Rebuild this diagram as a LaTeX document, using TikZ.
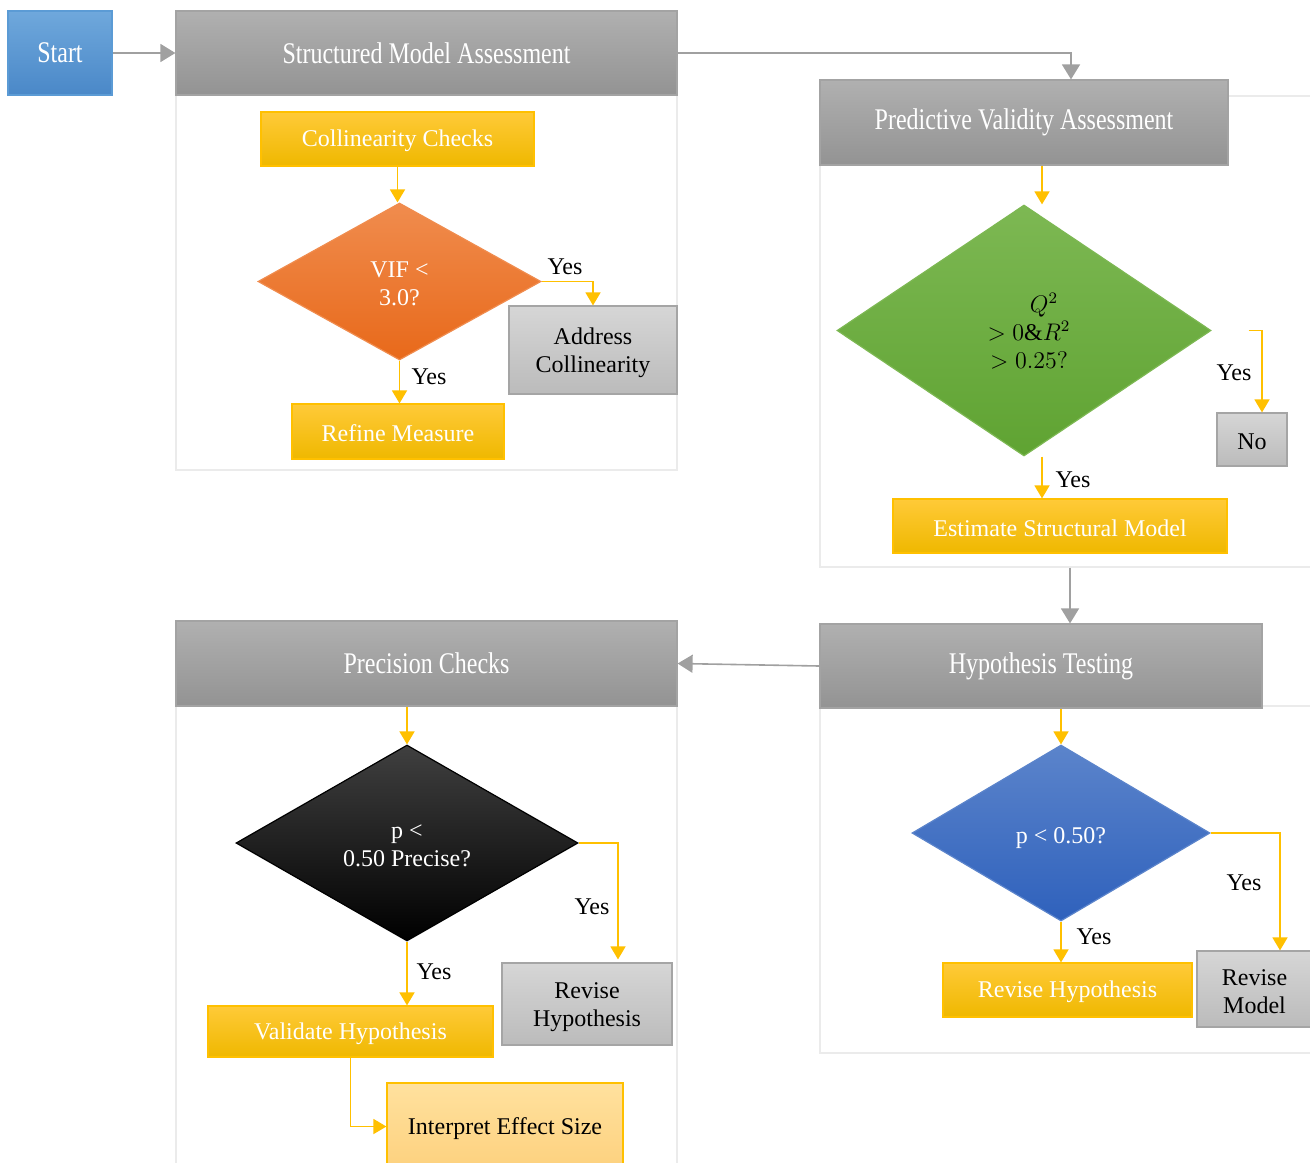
\documentclass[tikz,border=0pt]{standalone}
\usepackage{fontspec}
\setmainfont{Liberation Serif}
\usetikzlibrary{shapes.geometric,arrows.meta,calc}

\definecolor{hdrtop}{HTML}{B0B0B0}
\definecolor{hdrbot}{HTML}{939393}
\definecolor{hdredge}{HTML}{A3A3A3}
\definecolor{frmc}{HTML}{EBEBEB}
\definecolor{ytop}{HTML}{FFCA38}
\definecolor{ybot}{HTML}{EFB800}
\definecolor{yedge}{HTML}{FFC000}
\definecolor{gtop}{HTML}{D6D6D6}
\definecolor{gbot}{HTML}{BBBBBB}
\definecolor{gedge}{HTML}{A5A5A5}
\definecolor{arrgray}{HTML}{A0A0A0}
\definecolor{stop}{HTML}{6FA8DC}
\definecolor{sbot}{HTML}{4A88C8}
\definecolor{sedge}{HTML}{5B9BD5}
\definecolor{otop}{HTML}{F08C4E}
\definecolor{obot}{HTML}{E8691A}
\definecolor{grtop}{HTML}{7DB853}
\definecolor{grbot}{HTML}{5FA332}
\definecolor{bltop}{HTML}{5B84CB}
\definecolor{blbot}{HTML}{2F61BC}
\definecolor{itop}{HTML}{FFE19E}
\definecolor{ibot}{HTML}{FDD17E}

\newcommand\condensed[1]{\scalebox{0.8}[1]{#1}}

\begin{document}
\begin{tikzpicture}[x=0.5pt,y=-0.5pt,
  base/.style={draw, inner sep=0pt, align=center, font=\fontsize{12}{14}\selectfont},
  frame/.style={draw=frmc, line width=0.6pt, fill=white, inner sep=0pt},
  header/.style={base, draw=hdredge, line width=0.6pt, top color=hdrtop, bottom color=hdrbot,
    text=white, font=\fontsize{15}{18}\selectfont},
  startbox/.style={base, draw=sedge, line width=0.6pt, top color=stop, bottom color=sbot,
    text=white, font=\fontsize{15}{18}\selectfont},
  ybox/.style={base, text height=10.5pt, draw=yedge, line width=0.6pt, top color=ytop, bottom color=ybot, text=white},
  gbox/.style={base, draw=gedge, line width=0.6pt, top color=gtop, bottom color=gbot, text=black},
  ibox/.style={base, text height=10.5pt, draw=yedge, line width=0.6pt, top color=itop, bottom color=ibot, text=black},
  decision/.style={base, shape=diamond, aspect=1.8, line width=0.6pt},
  garrow/.style={draw=arrgray, line width=0.8pt, -{Triangle[width=9pt,length=7.5pt]}},
  yarrow/.style={draw=yedge, line width=0.8pt, -{Triangle[width=7.5pt,length=6.5pt]}},
  lbl/.style={inner sep=0pt, font=\fontsize{12}{14}\selectfont, text=black}
]
\useasboundingbox (0,0) rectangle (1310,1162);

% ---- group frames ----
\node[frame, minimum width=250.5pt, minimum height=187.5pt] (smaf) at (426.5,282.5) {};
\node[frame, minimum width=250pt, minimum height=235.5pt] (pvaf) at (1070,331.5) {};
\node[frame, minimum width=250pt, minimum height=173.5pt] (htf) at (1070,879.5) {};
\node[frame, minimum width=250.5pt, minimum height=232pt] (pcf) at (426.5,938) {};

% ---- start and group headers ----
\node[startbox, minimum width=52pt, minimum height=42pt] (start) at (60,53) {\condensed{Start}};
\node[header, minimum width=250.5pt, minimum height=42pt] (sma) at (426.5,53) {\condensed{Structured Model Assessment}};
\node[header, minimum width=204pt, minimum height=42.5pt] (pva) at (1024,122.5) {\condensed{Predictive Validity Assessment}};
\node[header, minimum width=221pt, minimum height=42pt] (ht) at (1041,666) {\condensed{Hypothesis Testing}};
\node[header, minimum width=250.5pt, minimum height=42.5pt] (pc) at (426.5,663.5) {\condensed{Precision Checks}};

% ---- structured model assessment ----
\node[ybox, minimum width=136.5pt, minimum height=27pt] (coll) at (397.5,139) {Collinearity Checks};
\node[decision, text height=24.5pt, draw=otop, top color=otop, bottom color=obot, text=white,
  minimum width=141.5pt, minimum height=78.5pt] (vif) at (399.5,281.5) {VIF <\\3.0?};
\node[gbox, text height=25pt, minimum width=84pt, minimum height=44pt] (addr) at (593,350) {Address\\Collinearity};
\node[ybox, minimum width=106pt, minimum height=27.5pt] (refine) at (398,431.5) {Refine Measure};

% ---- predictive validity assessment ----
\node[decision, text height=38.5pt, draw=grtop, top color=grtop, bottom color=grbot, text=black,
  minimum width=187pt, minimum height=125.5pt] (pred) at (1024,330.5)
  {\hspace*{20pt}$Q^{2}$\\\hspace*{5pt}$>0\&R^{2}$\\\hspace*{5pt}$>0.25?$};
\node[gbox, text height=10.5pt, minimum width=35pt, minimum height=26.5pt] (no) at (1252,439.5) {No};
\node[ybox, minimum width=167pt, minimum height=27pt] (est) at (1060,526) {Estimate Structural Model};

% ---- hypothesis testing ----
\node[decision, text height=13pt, draw=bltop, top color=bltop, bottom color=blbot, text=white,
  minimum width=149pt, minimum height=88pt] (pval) at (1061,833) {p < 0.50?};
\node[gbox, text height=25pt, minimum width=57.5pt, minimum height=38pt] (revmod) at (1254.5,989) {Revise\\Model};
\node[ybox, minimum width=124.5pt, minimum height=27pt] (revhypa) at (1067.5,990) {Revise Hypothesis};

% ---- precision checks ----
\node[decision, text height=24pt, draw=black, top color=black!75, bottom color=black, text=white,
  minimum width=171pt, minimum height=98pt] (prec) at (407,843) {p <\\0.50 Precise?};
\node[gbox, text height=25pt, minimum width=85pt, minimum height=41pt] (revhypb) at (587,1004) {Revise\\Hypothesis};
\node[ybox, minimum width=142.5pt, minimum height=25.5pt] (valid) at (350.5,1031.5) {Validate Hypothesis};
\node[ibox, minimum width=118pt, minimum height=43.5pt] (interp) at (505,1126.5) {Interpret Effect Size};

% ---- offset connector ends ----
\coordinate (pvain) at ($(pva.north)+(47,0)$);
\coordinate (predtopa) at ($(pva.south)+(18,0)$);
\coordinate (predtopb) at ($(pred.north)+(18,0)$);
\coordinate (predbot) at ($(pred.south)+(18,0)$);
\coordinate (predright) at ($(pred.east)+(37,0)$);
\coordinate (noin) at ($(no.north)+(10,0)$);
\coordinate (revmodin) at ($(revmod.north)+(25.5,0)$);
\coordinate (revhypbin) at ($(revhypb.north)+(31,-3)$);

% ---- gray flow between groups ----
\draw[garrow] (start.east) -- (sma.west);
\draw[garrow] (sma.east) -| (pvain);
\draw[garrow] (pvaf.south) -- (pvaf.south |- ht.north);
\draw[garrow] (ht.west) -- (pc.east);

% ---- yellow flow inside groups ----
\draw[yarrow] (coll.south) -- (coll.south |- vif.north);
\draw[yarrow] (vif.east) -| (addr.north);
\draw[yarrow] (vif.south) -- (vif.south |- refine.north);

\draw[yarrow] (predtopa) -- (predtopb);
\draw[yarrow] (predright) -| (noin);
\draw[yarrow] (predbot) -- (predbot |- est.north);

\draw[yarrow] (pval.north |- ht.south) -- (pval.north);
\draw[yarrow] (pval.east) -| (revmodin);
\draw[yarrow] (pval.south) -- (pval.south |- revhypa.north);

\draw[yarrow] (prec.north |- pc.south) -- (prec.north);
\draw[yarrow] (prec.east) -| (revhypbin);
\draw[yarrow] (prec.south) -- (prec.south |- valid.north);
\draw[yarrow] (valid.south) |- (interp.west);

% ---- branch labels ----
\node[lbl] (y1) at (565,267) {Yes};
\node[lbl] (y2) at (429,377) {Yes};
\node[lbl] (y3) at (1234,373) {Yes};
\node[lbl] (y4) at (1073,480) {Yes};
\node[lbl] (y5) at (1244,883) {Yes};
\node[lbl] (y6) at (1094,937) {Yes};
\node[lbl] (y7) at (592,907) {Yes};
\node[lbl] (y8) at (434,972) {Yes};
\end{tikzpicture}
\end{document}
